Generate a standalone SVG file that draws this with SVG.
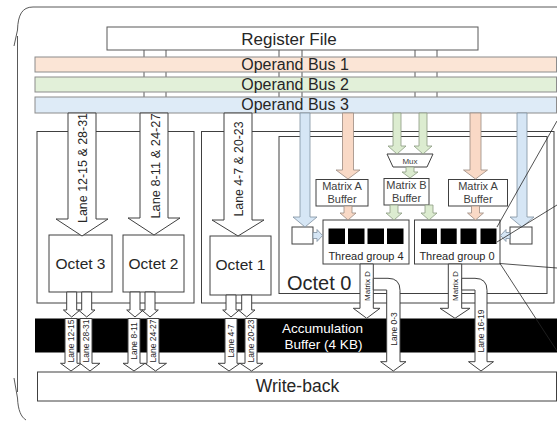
<svg xmlns="http://www.w3.org/2000/svg" width="557" height="422" viewBox="0 0 557 422">
<style>
text{font-family:"Liberation Sans",Arial,sans-serif;fill:#262626}
.box{fill:#fff;stroke:#404040;stroke-width:1}
.frame{fill:none;stroke:#595959;stroke-width:1}
.bus{stroke:#8c8c8c;stroke-width:1}
.b1{fill:#fbe5d6}.b2{fill:#e2f0d9}.b3{fill:#deebf7}
.arr{fill:#fff;stroke:#404040;stroke-width:1}
.pa{fill:#f9d9c6;stroke:#9a8a80;stroke-width:0.8}
.ga{fill:#dcecd0;stroke:#8a9a80;stroke-width:0.8}
.ba{fill:#d6e6f5;stroke:#7f8fa0;stroke-width:0.8}
.sq{fill:#000}
.tick{stroke:#595959;stroke-width:1}
.thin{stroke:#262626;stroke-width:0.8;fill:none}
.big{font-size:16px;text-anchor:middle}
.oct{font-size:15.5px;text-anchor:middle}
.mb{font-size:11px;text-anchor:middle;fill:#404040}
.lane{font-size:13px;text-anchor:middle}
.sl{font-size:8.5px;text-anchor:middle}
</style>

<!-- outer frame -->
<path class="frame" d="M557,7 L33,7 C22,7 18,15 17.5,30 L14,46 M17.5,36 L17.5,392 M14,378 L17.5,398 C18,410 21,417 26,420"/>

<g id="register-file">
<rect class="box" x="107" y="27" width="371" height="23" style="stroke:#595959"/>
<text class="big" x="289" y="45" font-size="17" style="font-size:17px">Register File</text>
</g>

<g id="bus-ticks">
<line class="tick" x1="144" y1="50" x2="144" y2="97"/>
<line class="tick" x1="166" y1="50" x2="166" y2="97"/>
<line class="tick" x1="279" y1="50" x2="279" y2="97"/>
<line class="tick" x1="302" y1="50" x2="302" y2="97"/>
<line class="tick" x1="415" y1="50" x2="415" y2="97"/>
<line class="tick" x1="437" y1="50" x2="437" y2="97"/>
</g>

<g id="operand-bus-1">
<rect class="bus b1" x="35" y="57" width="521.5" height="15"/>
<text class="big" x="295" y="70">Operand Bus 1</text>
</g>
<g id="operand-bus-2">
<rect class="bus b2" x="35" y="77" width="521.5" height="15"/>
<text class="big" x="295" y="90">Operand Bus 2</text>
</g>
<g id="operand-bus-3">
<rect class="bus b3" x="35" y="97" width="521.5" height="16"/>
<text class="big" x="295" y="110">Operand Bus 3</text>
</g>

<g id="group-octet-3-2">
<rect class="box" x="37" y="131.5" width="157" height="171.5"/>
</g>
<g id="group-octet-1-0">
<rect class="box" x="201.5" y="131.5" width="352.5" height="171.5"/>
</g>
<g id="octet-0">
<rect class="box" x="279" y="136.5" width="268" height="157"/>
<text x="287" y="290" style="font-size:20px">Octet 0</text>
</g>

<g id="octet-3">
<rect class="box" x="49" y="235" width="63" height="57"/>
<text class="oct" x="80.5" y="268.5">Octet 3</text>
</g>
<g id="octet-2">
<rect class="box" x="123" y="235" width="61" height="57"/>
<text class="oct" x="153.5" y="268.5">Octet 2</text>
</g>
<g id="octet-1">
<rect class="box" x="210" y="236" width="61" height="59"/>
<text class="oct" x="240.5" y="270">Octet 1</text>
</g>

<g id="matrix-a-buffer-left">
<rect class="box" x="316" y="179.5" width="52" height="26.5"/>
<text class="mb" x="342" y="190">Matrix A</text>
<text class="mb" x="342" y="203">Buffer</text>
</g>
<g id="matrix-b-buffer">
<rect class="box" x="384" y="178.5" width="45" height="26.5"/>
<text class="mb" x="406.5" y="189">Matrix B</text>
<text class="mb" x="406.5" y="202">Buffer</text>
</g>
<g id="matrix-a-buffer-right">
<rect class="box" x="448.5" y="179.5" width="59" height="26.5"/>
<text class="mb" x="478" y="190">Matrix A</text>
<text class="mb" x="478" y="203">Buffer</text>
</g>

<g id="mux">
<polygon class="box" points="387,154 433,154 427,167 393,167"/>
<text x="410" y="163.5" style="font-size:8px;text-anchor:middle;fill:#404040">Mux</text>
</g>

<g id="small-box-left"><rect class="box" x="292" y="227" width="21" height="17"/></g>
<g id="small-box-right"><rect class="box" x="510" y="227" width="22" height="17"/></g>

<g id="thread-group-4">
<rect class="box" x="323" y="220" width="86" height="44"/>
<rect class="sq" x="328.5" y="228.5" width="16.5" height="15.5"/>
<rect class="sq" x="348" y="228.5" width="16.5" height="15.5"/>
<rect class="sq" x="367.5" y="228.5" width="16.5" height="15.5"/>
<rect class="sq" x="387" y="228.5" width="16.5" height="15.5"/>
<text x="366" y="260" style="font-size:11px;text-anchor:middle">Thread group 4</text>
</g>
<g id="thread-group-0">
<rect class="box" x="414.5" y="220" width="85.5" height="44"/>
<rect class="sq" x="421" y="228.5" width="16" height="15.5"/>
<rect class="sq" x="440.7" y="228.5" width="16" height="15.5"/>
<rect class="sq" x="460.5" y="228.5" width="16" height="15.5"/>
<rect class="sq" x="480.5" y="228.5" width="16" height="15.5"/>
<text x="457" y="260" style="font-size:11px;text-anchor:middle">Thread group 0</text>
</g>

<g id="accumulation-buffer">
<rect x="35" y="318.5" width="522" height="34" fill="#000"/>
<text x="322.5" y="333" style="font-size:13.5px;text-anchor:middle;fill:#fff">Accumulation</text>
<text x="323.5" y="348.5" style="font-size:13.5px;text-anchor:middle;fill:#fff">Buffer (4 KB)</text>
</g>

<g id="write-back">
<rect class="box" x="37.5" y="372" width="519" height="29"/>
<text x="297.5" y="392" style="font-size:17.5px;text-anchor:middle">Write-back</text>
</g>

<g id="connectors">
<!-- big lane arrows to octets -->
<polygon class="arr" points="68,113 96,113 96,219 108,219 82,236 56,219 68,219"/>
<text class="lane" transform="translate(87,168) rotate(-90)" textLength="110" lengthAdjust="spacingAndGlyphs">Lane 12-15 &amp; 28-31</text>
<polygon class="arr" points="140,113 168,113 168,218 180,218 154,235 128,218 140,218"/>
<text class="lane" transform="translate(159.5,166) rotate(-90)" textLength="105" lengthAdjust="spacingAndGlyphs">Lane 8-11 &amp; 24-27</text>
<polygon class="arr" points="224,113 252,113 252,220 264,220 238,236 212,220 224,220"/>
<text class="lane" transform="translate(243,169) rotate(-90)" textLength="95" lengthAdjust="spacingAndGlyphs">Lane 4-7 &amp; 20-23</text>

<!-- coloured operand arrows -->
<polygon class="ba" points="300,113 310,113 310,217 317,217 305,227 293,217 300,217"/>
<polygon class="ba" points="517,113 527,113 527,217 534,217 522,227 510,217 517,217"/>
<polygon class="pa" points="342.5,113 353.5,113 353.5,170 360,170 348,179 336,170 342.5,170"/>
<polygon class="pa" points="470,113 481,113 481,170 487.5,170 475.5,179 463.5,170 470,170"/>
<polygon class="ga" points="393,113 401,113 401,146 406,146 397,154 388,146 393,146"/>
<polygon class="ga" points="419,113 427,113 427,146 432,146 423,154 414,146 419,146"/>
<polygon class="ga" points="406,167 414,167 414,172 418,172 410,178 402,172 406,172"/>

<!-- buffer to thread group arrows -->
<polygon class="pa" points="344,206 352,206 352,213 356,213 348,220 340,213 344,213"/>
<polygon class="ga" points="390,205 398,205 398,213 402,213 394,220 386,213 390,213"/>
<polygon class="ga" points="425,205 433,205 433,213 437,213 429,220 421,213 425,213"/>
<polygon class="pa" points="471.5,206 479.5,206 479.5,213 483.5,213 475.5,220 467.5,213 471.5,213"/>

<!-- small side arrows -->
<polygon class="ba" points="313,232.5 317,232.5 317,229.5 322.5,235.5 317,241.5 317,238.5 313,238.5"/>
<polygon class="ba" points="510,232.5 506,232.5 506,229.5 500.5,235.5 506,241.5 506,238.5 510,238.5"/>

<!-- matrix D arrows -->
<polygon class="arr" points="360,264 373.3,264 373.3,308.3 380,308.3 366.7,318.3 353.3,308.3 360,308.3"/>
<path class="arr" d="M373.3,290 V278.3 H388 Q400,278.3 400,290.3 V361.7 H406 L393.3,371 L380.6,361.7 H386.7 V290 Z"/>
<text class="sl" transform="translate(370,286) rotate(-90)" style="font-size:8px">Matrix D</text>
<text class="sl" transform="translate(396.5,329) rotate(-90)">Lane 0-3</text>

<polygon class="arr" points="448.3,264 461.7,264 461.7,308.3 470,308.3 455,318.3 440,308.3 448.3,308.3"/>
<path class="arr" d="M461.7,290 V278.3 H475 Q487,278.3 487,290.3 V361.7 H493.5 L481,371 L468.5,361.7 H475 V290 Z"/>
<text class="sl" transform="translate(458.3,286) rotate(-90)" style="font-size:8px">Matrix D</text>
<text class="sl" transform="translate(484,331) rotate(-90)">Lane 16-19</text>

<!-- octet outputs to accumulation buffer -->
<polygon class="arr" points="66.7,292 76.7,292 76.7,310 80,310 71.7,317 63.4,310 66.7,310"/>
<polygon class="arr" points="81.7,292 91.7,292 91.7,310 95,310 86.7,317 78.4,310 81.7,310"/>
<polygon class="arr" points="130,292 140,292 140,310 143.3,310 135,317 126.7,310 130,310"/>
<polygon class="arr" points="145,292 155,292 155,310 158.3,310 150,317 141.7,310 145,310"/>
<polygon class="arr" points="226,295 236,295 236,310 239.3,310 231,317 222.7,310 226,310"/>
<polygon class="arr" points="241.7,295 251.7,295 251.7,310 255,310 246.7,317 238.4,310 241.7,310"/>

<!-- lanes through accumulation buffer to write-back -->
<polygon class="arr" points="65,318.5 77,318.5 77,363.3 81.5,363.3 71,371 60.5,363.3 65,363.3"/>
<text class="sl" transform="translate(74,341) rotate(-90)">Lane 12-15</text>
<polygon class="arr" points="80,318.5 92,318.5 92,363.3 100,363.3 90,371 80,363.3 80,363.3"/>
<text class="sl" transform="translate(89,341) rotate(-90)">Lane 28-31</text>
<polygon class="arr" points="128,318.5 140,318.5 140,363.3 145,363.3 134,371 123,363.3 128,363.3"/>
<text class="sl" transform="translate(137,341) rotate(-90)">Lane 8-11</text>
<polygon class="arr" points="147,318.5 159,318.5 159,363.3 166.5,363.3 155.5,371 145,363.3 147,363.3"/>
<text class="sl" transform="translate(156,341) rotate(-90)">Lane 24-27</text>
<polygon class="arr" points="225,318.5 237,318.5 237,363.3 240,363.3 229,371 218,363.3 225,363.3"/>
<text class="sl" transform="translate(234,341) rotate(-90)">Lane 4-7</text>
<polygon class="arr" points="245,318.5 257,318.5 257,363.3 263,363.3 251.5,371 240,363.3 245,363.3"/>
<text class="sl" transform="translate(254,341) rotate(-90)">Lane 20-23</text>

<!-- leader lines to the right -->
<line class="thin" x1="497" y1="227" x2="557" y2="121"/>
<line class="thin" x1="497" y1="242" x2="557" y2="205"/>
<line class="thin" x1="500" y1="263.5" x2="557" y2="268"/>
<line class="thin" x1="500" y1="263.5" x2="557" y2="351"/>
</g>
</svg>
